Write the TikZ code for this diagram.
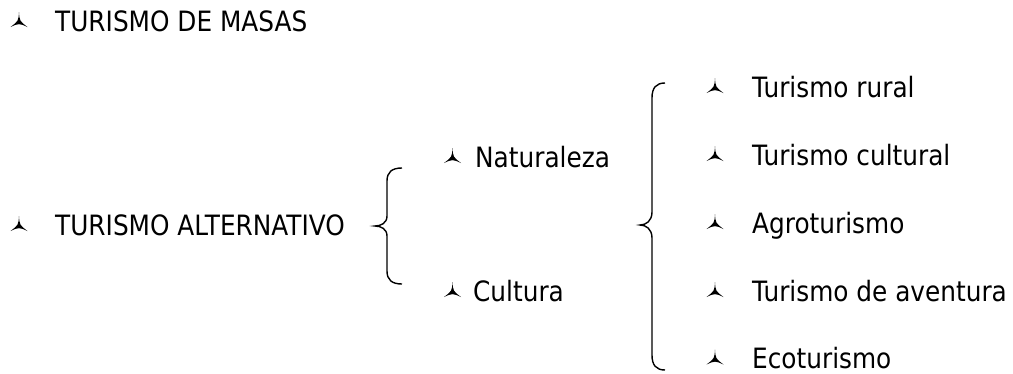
\documentclass[tikz,border=0pt]{standalone}
\usepackage{fontspec}
\setmainfont{DejaVu Sans}[FakeStretch=0.885]
\begin{document}
\begin{tikzpicture}[x=1pt,y=-1pt,
  txt/.style={anchor=base west, inner sep=0pt, font=\fontsize{28}{30}\selectfont},
  bul/.pic={\fill (0,-10) .. controls (0.6,-1) .. (8.5,5) .. controls (0,1.2) .. (-8.5,5) .. controls (-0.6,-1) .. (0,-10) -- cycle;},
  bracepath/.style={line width=1.4pt}]
\useasboundingbox (0,0) rectangle (1013,373);
% level 0
\pic at (19,22) {bul};
\node[txt] (masas) at (55,31) {TURISMO DE MASAS};
\pic at (19,226) {bul};
\node[txt] (alt) at (55,235) {TURISMO ALTERNATIVO};
% small brace
\draw[bracepath] (402,168) .. controls (392,168) and (387,172) .. (387,181) -- (387,216)
  .. controls (387,223) and (381,226) .. (375,226)
  .. controls (381,226) and (387,229) .. (387,236) -- (387,271)
  .. controls (387,280) and (392,284) .. (402,284);
% level 1
\pic at (452.5,158) {bul};
\node[txt] (nat) at (475,167) {Naturaleza};
\pic at (452.5,292) {bul};
\node[txt] (cul) at (473,301) {Cultura};
% big brace
\draw[bracepath] (665,83) .. controls (656,83) and (652,88) .. (652,98) -- (652,212)
  .. controls (652,221) and (646,225) .. (640,225)
  .. controls (646,225) and (652,229) .. (652,238) -- (652,355)
  .. controls (652,365) and (656,370) .. (665,370);
% level 2
\pic at (715,88) {bul};
\node[txt] (r1) at (752,97) {Turismo rural};
\pic at (715,156) {bul};
\node[txt] (r2) at (752,165) {Turismo cultural};
\pic at (715,224) {bul};
\node[txt] (r3) at (752,233) {Agroturismo};
\pic at (715,292) {bul};
\node[txt] (r4) at (752,301) {Turismo de aventura};
\pic at (715,359.5) {bul};
\node[txt] (r5) at (752,368.5) {Ecoturismo};
\end{tikzpicture}
\end{document}
